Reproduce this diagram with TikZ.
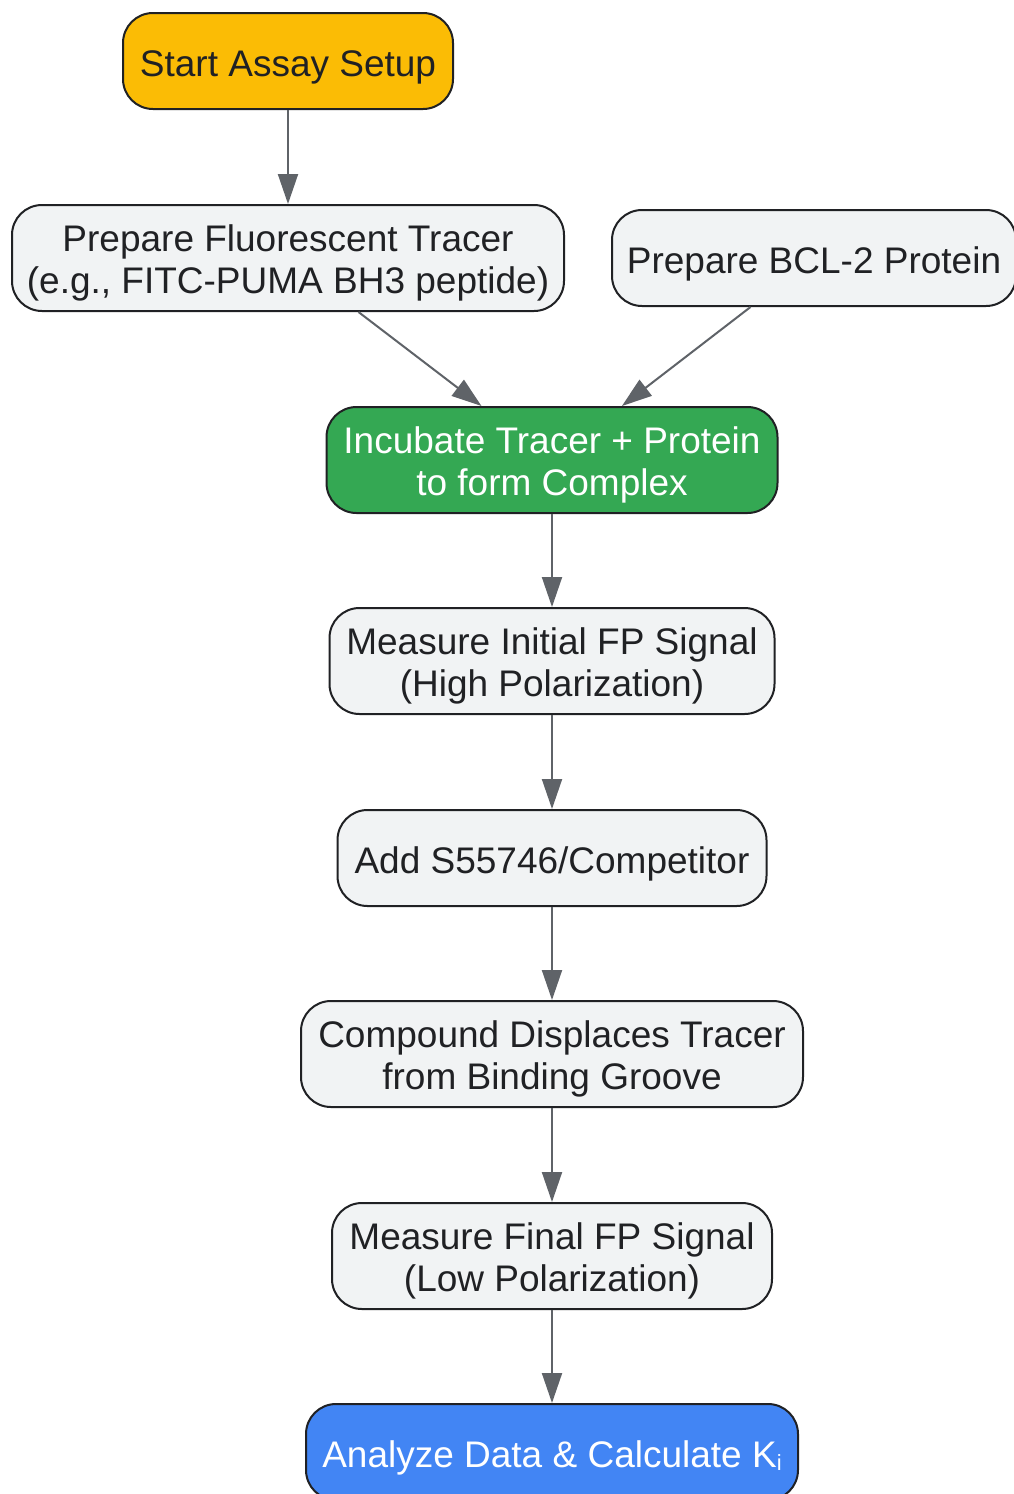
\documentclass[tikz,border=0pt]{standalone}
\usepackage{fontspec}
\setmainfont{Liberation Sans}
\usetikzlibrary{arrows.meta}
\definecolor{boxline}{HTML}{202124}
\definecolor{boxfill}{HTML}{F1F3F4}
\definecolor{txtdark}{HTML}{202124}
\definecolor{arrowcol}{HTML}{5F6368}
\definecolor{startfill}{HTML}{FBBC05}
\definecolor{greenfill}{HTML}{34A853}
\definecolor{bluefill}{HTML}{4285F4}
\begin{document}
\begin{tikzpicture}[x=1pt,y=-1pt,
  box/.style={draw=boxline, line width=2pt, rounded corners=30pt, fill=boxfill,
    text=txtdark, align=center, inner sep=0pt,
    font=\fontsize{37}{42}\selectfont},
  oneline/.style={box, text height=30pt, text depth=0pt, minimum height=96pt},
  twoline/.style={box, text height=70pt, text depth=0pt, minimum height=106pt},
  conn/.style={draw=arrowcol, line width=2pt,
    -{Triangle[length=30pt,width=20pt]}}]
\useasboundingbox (0,0) rectangle (1014,1494);
\fill[white] (0,0) rectangle (1014,1494);

\node[oneline, fill=startfill, minimum width=330pt] (start) at (288,61) {Start Assay Setup};
\node[twoline, minimum width=552pt] (tracer) at (288,258) {Prepare Fluorescent Tracer\\(e.g., FITC-PUMA BH3 peptide)};
\node[oneline, minimum width=404pt] (bcl) at (814,258) {Prepare BCL-2 Protein};
\node[twoline, fill=greenfill, text=white, minimum width=451pt] (incub) at (552,460) {Incubate Tracer + Protein\\to form Complex};
\node[twoline, minimum width=445pt] (meas1) at (552,661) {Measure Initial FP Signal\\(High Polarization)};
\node[oneline, minimum width=429pt] (add) at (552,858) {Add S55746/Competitor};
\node[twoline, minimum width=502pt] (displ) at (552,1054) {Compound Displaces Tracer\\from Binding Groove};
\node[twoline, minimum width=440pt] (meas2) at (552,1256) {Measure Final FP Signal\\(Low Polarization)};
\node[oneline, fill=bluefill, text=white, minimum width=492pt] (anal) at (552,1452) {Analyze Data \& Calculate K{\fontsize{22}{22}\selectfont\raisebox{-3pt}{i}}};

\draw[conn] (start) -- (tracer);
\draw[conn] (tracer) -- (incub);
\draw[conn] (bcl) -- (incub);
\draw[conn] (incub) -- (meas1);
\draw[conn] (meas1) -- (add);
\draw[conn] (add) -- (displ);
\draw[conn] (displ) -- (meas2);
\draw[conn] (meas2) -- (anal);
\end{tikzpicture}
\end{document}
